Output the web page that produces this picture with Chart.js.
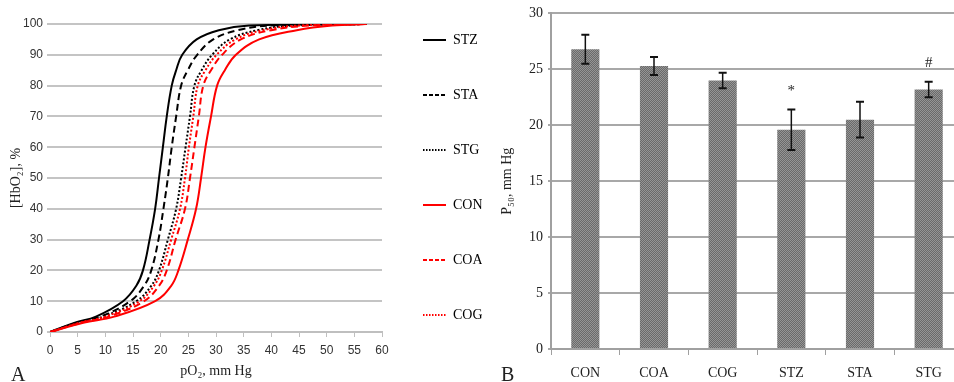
<!DOCTYPE html>
<html>
<head>
<meta charset="utf-8">
<script src="https://cdn.jsdelivr.net/npm/chart.js"></script>
<style>
  html, body { margin: 0; padding: 0; background: #fff; overflow: hidden; }
  body { width: 954px; height: 382px; position: relative; }
  canvas { position: absolute; top: 0; }
  #curves { left: 0; }
  #p50 { left: 484px; }
  .panel { position: absolute; top: 364px; font: 20px "Liberation Serif", serif; line-height: 20px; color: #222; }
</style>
</head>
<body>
<canvas id="curves" width="484" height="382"></canvas>
<canvas id="p50" width="490" height="382"></canvas>
<div class="panel" style="left:11px">A</div>
<div class="panel" style="left:501px">B</div>
<script>
// Panel A: saturation levels (%) and pO2 (mm Hg) read for each curve
var satLevels = [0, 3, 5, 10, 15, 20, 30, 40, 50, 60, 70, 80, 85, 90, 95, 98, 99.5, 100];
var pO2_STZ = [0, 4.5, 8.3, 13.2, 15.6, 16.8, 18.0, 19.0, 19.7, 20.4, 21.1, 22.0, 22.8, 23.9, 26.5, 30.5, 36.0, 57.2];
var pO2_STA = [0, 4.8, 9.1, 14.5, 17.0, 18.3, 19.6, 20.5, 21.3, 22.0, 22.8, 23.7, 24.9, 26.6, 29.5, 34.0, 40.0, 57.2];
var pO2_STG = [0, 5.1, 9.6, 15.6, 18.3, 19.7, 21.3, 22.8, 23.7, 24.5, 25.3, 26.1, 27.4, 29.3, 32.5, 37.5, 44.0, 57.2];
var pO2_CON = [0, 6.0, 11.6, 19.0, 21.9, 23.2, 24.9, 26.4, 27.3, 28.1, 29.1, 30.2, 31.6, 33.6, 37.8, 44.6, 51.0, 57.2];
var pO2_COA = [0, 5.6, 10.6, 17.0, 19.7, 21.1, 22.7, 24.4, 25.3, 26.1, 26.9, 27.7, 29.1, 31.1, 34.5, 40.0, 47.0, 57.2];
var pO2_COG = [0, 5.3, 10.0, 16.2, 18.8, 20.2, 21.9, 23.5, 24.4, 25.1, 25.9, 26.7, 28.1, 30.1, 33.5, 38.5, 45.0, 57.2];

// Panel B: P50 per group, error and significance marks
var groups = ["CON", "COA", "COG", "STZ", "STA", "STG"];
var p50 = [26.8, 25.3, 24.0, 19.6, 20.5, 23.2];
var p50Err = [1.3, 0.8, 0.7, 1.8, 1.6, 0.7];
var marks = ["", "", "", "*", "", "#"];

var serif = "'Liberation Serif', 'Times New Roman', serif";
var sans = "'Liberation Sans Narrow', 'Liberation Sans', Arial, sans-serif";

function toPoints(xs) {
  return xs.map(function (x, i) {
    return { x: x, y: satLevels[i] };
  });
}

function curve(label, xs, color, dash, order) {
  return {
    label: label,
    data: toPoints(xs),
    borderColor: color,
    backgroundColor: color,
    borderWidth: 2,
    borderDash: dash,
    pointRadius: 0,
    tension: 0.4,
    fill: false,
    order: order
  };
}

var dashed = [7, 4];
var dotted = [2, 2];

var defaultLabels = Chart.defaults.plugins.legend.labels.generateLabels;

new Chart(document.getElementById("curves").getContext("2d"), {
  type: "line",
  data: {
    datasets: [
      curve("STZ", pO2_STZ, "#000000", [], 2),
      curve("STA", pO2_STA, "#000000", dashed, 2),
      curve("STG", pO2_STG, "#000000", dotted, 2),
      curve("CON", pO2_CON, "#ff0000", [], 1),
      curve("COA", pO2_COA, "#ff0000", dashed, 1),
      curve("COG", pO2_COG, "#ff0000", dotted, 1)
    ]
  },
  options: {
    responsive: false,
    animation: false,
    layout: { padding: { top: -8, right: 2, left: 0, bottom: 0 } },
    plugins: {
      title: { display: true, text: "", padding: 0, font: { size: 10, lineHeight: "32px" } },
      tooltip: { enabled: false },
      legend: {
        position: "right",
        align: "start",
        maxWidth: 100,
        labels: {
          usePointStyle: true,
          pointStyle: "line",
          pointStyleWidth: 23,
          padding: 41,
          color: "#000",
          font: { family: serif, size: 14 },
          sort: function (a, b) { return a.datasetIndex - b.datasetIndex; },
          generateLabels: function (chart) {
            return defaultLabels(chart).map(function (item) {
              var dash = chart.data.datasets[item.datasetIndex].borderDash;
              item.lineDash = dash.length ? (dash[0] > 3 ? [4, 2] : [1.5, 1.5]) : [];
              item.lineWidth = 2;
              return item;
            });
          }
        }
      }
    },
    scales: {
      x: {
        type: "linear",
        min: 0,
        max: 60,
        ticks: { stepSize: 5, padding: 6, color: "#333", font: { family: sans, size: 12 } },
        grid: { drawOnChartArea: false, color: "#bfbfbf", lineWidth: 1, tickLength: 5 },
        border: { color: "#bfbfbf", width: 2 },
        title: { display: true, text: "pO₂, mm Hg", color: "#222", font: { family: serif, size: 14 }, padding: { top: 0, bottom: 2 } },
        afterFit: function (s) { s.height = 50; }
      },
      y: {
        min: 0,
        max: 100,
        ticks: { stepSize: 10, padding: 4, color: "#333", font: { family: sans, size: 12 } },
        grid: { color: "#c4c4c4", lineWidth: 2, tickLength: 3 },
        border: { display: false },
        title: { display: true, text: "[HbO₂], %", color: "#222", font: { family: serif, size: 14 }, padding: { top: 8, bottom: 0 } },
        afterFit: function (s) { s.width = 50; }
      }
    }
  }
});

// dotted grey texture for the bars
function barPattern() {
  var c = document.createElement("canvas");
  c.width = 2;
  c.height = 2;
  var g = c.getContext("2d");
  g.fillStyle = "#6a6a6a";
  g.fillRect(0, 0, 2, 2);
  g.fillStyle = "#959595";
  g.fillRect(0, 0, 1, 1);
  g.fillRect(1, 1, 1, 1);
  return g.createPattern(c, "repeat");
}

var errorBars = {
  id: "errorBars",
  afterDatasetsDraw: function (chart) {
    var ctx = chart.ctx;
    var y = chart.scales.y;
    var meta = chart.getDatasetMeta(0);
    ctx.save();
    ctx.strokeStyle = "#111";
    ctx.fillStyle = "#222";
    meta.data.forEach(function (bar, i) {
      var top = y.getPixelForValue(p50[i] + p50Err[i]);
      var bottom = y.getPixelForValue(p50[i] - p50Err[i]);
      ctx.lineWidth = 1.5;
      ctx.beginPath();
      ctx.moveTo(bar.x, top);
      ctx.lineTo(bar.x, bottom);
      ctx.stroke();
      ctx.lineWidth = 2;
      ctx.beginPath();
      ctx.moveTo(bar.x - 4, top);
      ctx.lineTo(bar.x + 4, top);
      ctx.moveTo(bar.x - 4, bottom);
      ctx.lineTo(bar.x + 4, bottom);
      ctx.stroke();
      if (marks[i]) {
        ctx.font = "15px " + serif;
        ctx.textAlign = "center";
        ctx.textBaseline = "middle";
        ctx.fillText(marks[i], bar.x, top - 19);
      }
    });
    ctx.restore();
  }
};

var barCtx = document.getElementById("p50").getContext("2d");
new Chart(barCtx, {
  type: "bar",
  data: {
    labels: groups,
    datasets: [{
      data: p50,
      backgroundColor: barPattern(),
      borderWidth: 0,
      barPercentage: 0.41,
      categoryPercentage: 1
    }]
  },
  options: {
    responsive: false,
    animation: false,
    layout: { padding: { top: 13, right: 11, left: 0, bottom: 0 } },
    plugins: { legend: { display: false }, tooltip: { enabled: false } },
    scales: {
      x: {
        ticks: { padding: 10, color: "#222", font: { family: serif, size: 14 } },
        grid: { drawOnChartArea: false, offset: true, color: "#a0a0a0", lineWidth: 1, tickLength: 6 },
        border: { color: "#a0a0a0", width: 2 },
        afterFit: function (s) { s.height = 33; }
      },
      y: {
        min: 0,
        max: 30,
        ticks: { stepSize: 5, padding: 5, color: "#222", font: { family: serif, size: 14 } },
        grid: { color: "#a8a8a8", lineWidth: 2, tickLength: 3 },
        border: { color: "#a0a0a0", width: 2 },
        title: { display: true, text: "P₅₀, mm Hg", color: "#222", font: { family: serif, size: 14 }, padding: { top: 15, bottom: 0 } },
        afterFit: function (s) { s.width = 67; }
      }
    }
  },
  plugins: [errorBars]
});
</script>
</body>
</html>
